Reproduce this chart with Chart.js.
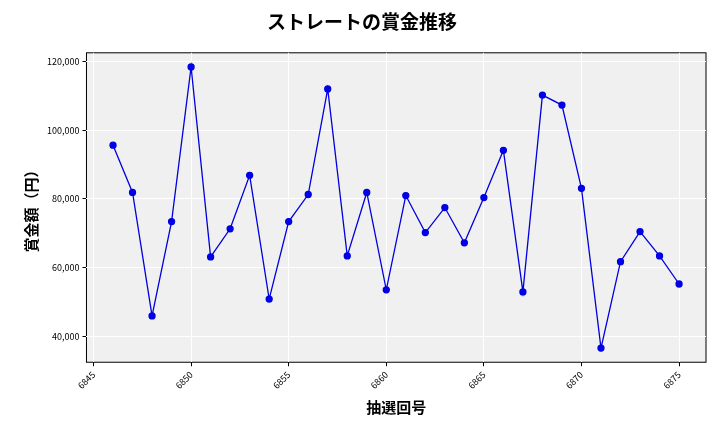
<!DOCTYPE html>
<html>
<head>
<meta charset="utf-8">
<script src="https://cdn.jsdelivr.net/npm/chart.js@4"></script>
<style>
body { margin: 0; background: #fff; }
#wrap { width: 720px; height: 432px; }
</style>
</head>
<body>
<div id="wrap"><canvas id="myChart"></canvas></div>
<script>
const draws = [6846, 6847, 6848, 6849, 6850, 6851, 6852, 6853, 6854, 6855,
    6856, 6857, 6858, 6859, 6860, 6861, 6862, 6863, 6864, 6865,
    6866, 6867, 6868, 6869, 6870, 6871, 6872, 6873, 6874, 6875];
const prizes = [95700, 81900, 45900, 73400, 118500, 63100, 71300, 86900, 50800, 73400,
    81300, 112100, 63400, 81900, 53500, 81000, 70200, 77500, 67200, 80400,
    94200, 52900, 110300, 107400, 83100, 36500, 61700, 70500, 63400, 55200];

const fontFamily = "'Noto Sans CJK JP', 'DejaVu Sans', sans-serif";

const plotBg = {
    id: 'plotBg',
    beforeDraw(chart) {
        const a = chart.chartArea;
        const ctx = chart.ctx;
        ctx.save();
        ctx.fillStyle = '#f0f0f0';
        ctx.fillRect(a.left, a.top, a.right - a.left, a.bottom - a.top);
        ctx.strokeStyle = '#000';
        ctx.lineWidth = 1;
        ctx.strokeRect(a.left, a.top, a.right - a.left, a.bottom - a.top);
        ctx.restore();
    }
};

const config = {
    type: 'line',
    data: {
        datasets: [{
            data: draws.map((d, i) => ({ x: d, y: prizes[i] })),
            borderColor: '#0000dd',
            backgroundColor: '#0000ee',
            borderWidth: 1.3,
            pointRadius: 3,
            pointHoverRadius: 3,
            tension: 0,
        }],
    },
    options: {
        responsive: true,
        maintainAspectRatio: false,
        animation: false,
        layout: { padding: { left: 18, right: 14, top: 6, bottom: 12 } },
        plugins: {
            legend: { display: false },
            tooltip: { enabled: false },
            title: {
                display: true,
                text: 'ストレートの賞金推移',
                color: '#000',
                font: { family: fontFamily, size: 19, weight: 'bold' },
                padding: { top: 4, bottom: 20 }
            }
        },
        scales: {
            x: {
                type: 'linear',
                min: 6844.64,
                max: 6876.38,
                afterBuildTicks(axis) {
                    axis.ticks = [6845, 6850, 6855, 6860, 6865, 6870, 6875].map(v => ({ value: v }));
                },
                grid: { color: '#ffffff', lineWidth: 1, drawTicks: true, tickColor: '#000', tickLength: 4 },
                border: { display: false },
                ticks: {
                    color: '#000', maxRotation: 45, minRotation: 45,
                    font: { family: fontFamily, size: 9 },
                    callback: v => String(v)
                },
                title: {
                    display: true, text: '抽選回号', color: '#000',
                    font: { family: fontFamily, size: 15, weight: 'bold' }
                }
            },
            y: {
                min: 32380,
                max: 122640,
                afterBuildTicks(axis) {
                    axis.ticks = [40000, 60000, 80000, 100000, 120000].map(v => ({ value: v }));
                },
                grid: { color: '#ffffff', lineWidth: 1, tickColor: '#000', tickLength: 4 },
                border: { display: false },
                ticks: {
                    color: '#000',
                    font: { family: fontFamily, size: 9 },
                    callback: v => v.toLocaleString('en-US')
                },
                title: {
                    display: true, text: '賞金額（円）', color: '#000',
                    font: { family: fontFamily, size: 15, weight: 'bold' }
                }
            }
        }
    },
    plugins: [plotBg]
};

new Chart(document.getElementById('myChart').getContext('2d'), config);
</script>
</body>
</html>
